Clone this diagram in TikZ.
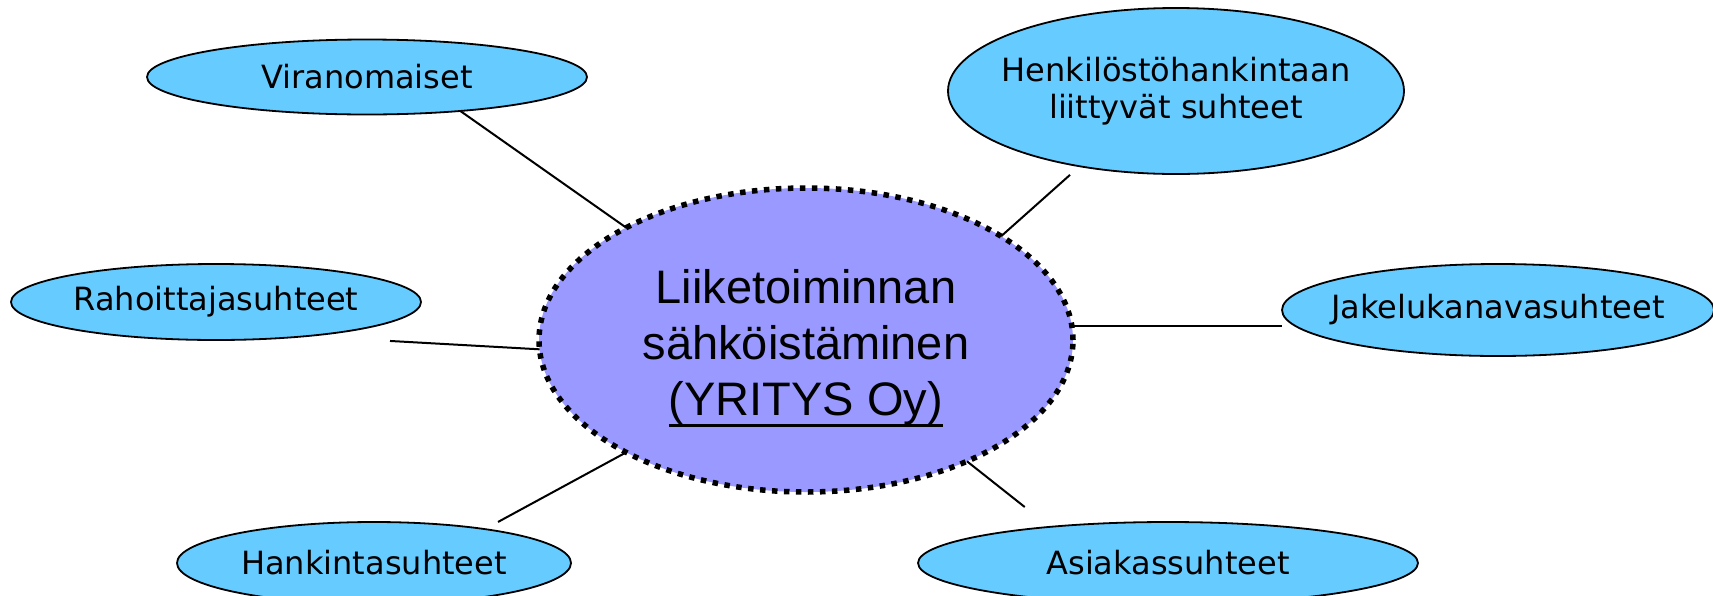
\documentclass[tikz,border=0pt]{standalone}
\usepackage{fontspec}
\usetikzlibrary{shapes.geometric}
\setmainfont{Liberation Sans}
\newfontfamily\relfont{DejaVu Sans}
\definecolor{relblue}{HTML}{66CCFF}
\definecolor{hubblue}{HTML}{9999FF}
\newcommand{\hubline}[1]{\setbox0\hbox{#1}\rlap{\rule[-11.5pt]{\wd0}{3pt}}\box0}

\begin{document}
\begin{tikzpicture}[x=1pt,y=-1pt,
            rel/.style 2 args={ellipse,draw,line width=1.8pt,fill=relblue,
                minimum width=#1,minimum height=#2,inner xsep=-20pt,
                inner ysep=0pt,outer sep=0pt,align=center,
                font=\relfont\fontsize{32}{37}\selectfont},
            hub/.style={ellipse,draw,line width=5.5pt,dash pattern=on 5.5pt off 6.5pt,
                fill=hubblue,minimum width=534pt,minimum height=304pt,
                inner sep=0pt,outer sep=0pt,align=center,
                font=\fontsize{47}{56}\selectfont},
            link/.style={line width=2pt}
        ]
        \useasboundingbox (0,0) rectangle (1713,595);
        \node[hub] (firm) at (806,340) {\rule{0pt}{50pt}Liiketoiminnan\\sähköistäminen\\\hubline{(YRITYS Oy)}};
        \node[rel={440pt}{75pt}] (viran) at (367,77) {Viranomaiset};
        \node[rel={456pt}{166pt}] (henk) at (1176,91) {Henkilöstöhankintaan\\liittyvät suhteet};
        \node[rel={410pt}{76pt}] (rahoit) at (216,302) {Rahoittajasuhteet};
        \node[rel={432pt}{92pt}] (jakelu) at (1498,310) {Jakelukanavasuhteet};
        \node[rel={394pt}{82pt}] (hankin) at (374,563) {Hankintasuhteet};
        \node[rel={500pt}{82pt}] (asiak) at (1168,563) {Asiakassuhteet};
        \draw[link] (viran.-20) -- (firm.148);
        \draw[link,shorten <=13pt] (henk.-142) -- (firm.28);
        \draw[link,shorten <=85pt] (rahoit.-21) -- (firm.182);
        \draw[link] (firm.3) -- (firm.3 -| jakelu.west);
        \draw[link,shorten <=15pt] (hankin.17) -- (firm.212);
        \draw[link,shorten >=32pt] (firm.-37) -- (asiak.163);
    \end{tikzpicture}
\end{document}
